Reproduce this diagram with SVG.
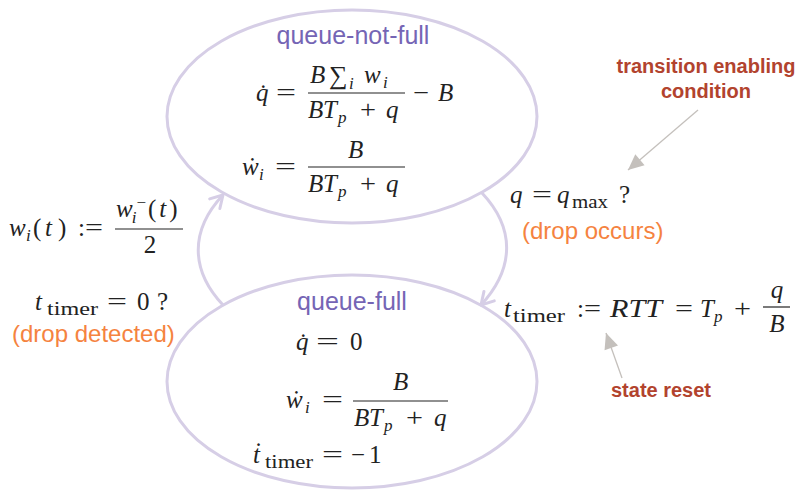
<svg xmlns="http://www.w3.org/2000/svg" width="804" height="493" viewBox="0 0 804 493">
<style>
.node{fill:none;stroke:#d6cee6;stroke-width:3}
.conn{fill:none;stroke:#d6cee6;stroke-width:3}
.ann{fill:none;stroke:#c4c0bc;stroke-width:1.3}
.title{font-family:"Liberation Sans",Arial,sans-serif;font-size:25px;fill:#7565b5;text-anchor:middle}
.m{font-family:"Liberation Serif","Times New Roman",serif;font-size:25px;fill:#222}
.i{font-style:italic}
.s{font-size:17px}
.sw{font-size:19px}
.bar{stroke:#222;stroke-width:1.2}
.or{font-family:"Liberation Sans",Arial,sans-serif;font-size:24px;fill:#f5833f}
.red{font-family:"Liberation Sans",Arial,sans-serif;font-size:20px;font-weight:bold;fill:#b2432e;text-anchor:middle}
</style>
<defs>
<marker id="chev" markerUnits="userSpaceOnUse" markerWidth="30" markerHeight="30" refX="0" refY="0" viewBox="-15 -15 30 30" orient="auto">
<path d="M-12,-7 L0,0 L-12,7" fill="none" stroke="#d6cee6" stroke-width="3" stroke-linecap="round" stroke-linejoin="round"/>
</marker>
<marker id="tri" markerUnits="userSpaceOnUse" markerWidth="20" markerHeight="20" refX="0" refY="0" viewBox="-12 -6 14 12" orient="auto">
<path d="M-11,-5 L0,0 L-11,5 Z" fill="#c4c0bc"/>
</marker>
</defs>

<g id="connectors">
<path class="conn" d="M223,305 C190,270 190,230 223,195" marker-end="url(#chev)"/>
<path class="conn" d="M482,193 C515,228 515,268 481,305" marker-end="url(#chev)"/>
<line class="ann" x1="698" y1="110" x2="628" y2="170" marker-end="url(#tri)"/>
<line class="ann" x1="622" y1="378" x2="606" y2="333" marker-end="url(#tri)"/>
</g>

<g id="queue-not-full">
<ellipse class="node" cx="352" cy="116.5" rx="185" ry="106.5"/>
<text class="title" x="353" y="44">queue-not-full</text>
<text class="m i" x="256" y="101">q&#x307;</text>
<text class="m" x="276" y="101" textLength="20" lengthAdjust="spacingAndGlyphs">=</text>
<text class="m i" x="310" y="83">B</text>
<text class="m" x="329" y="84" style="font-size:26px">∑</text>
<text class="m i s" x="349" y="89">i</text>
<text class="m i" x="364" y="83">w</text>
<text class="m i s" x="383" y="88">i</text>
<line class="bar" x1="308" y1="93" x2="405" y2="93"/>
<text class="m i" x="308" y="118">B</text>
<text class="m i" x="323" y="118">T</text>
<text class="m i s" x="338" y="123">p</text>
<text class="m" x="360" y="118" textLength="16" lengthAdjust="spacingAndGlyphs">+</text>
<text class="m i" x="386" y="118">q</text>
<text class="m" x="413" y="101" textLength="16" lengthAdjust="spacingAndGlyphs">−</text>
<text class="m i" x="438" y="101">B</text>
<text class="m i" x="242" y="175">w&#x307;</text>
<text class="m i s" x="259" y="180">i</text>
<text class="m" x="275" y="175" textLength="21" lengthAdjust="spacingAndGlyphs">=</text>
<text class="m i" x="348" y="158">B</text>
<line class="bar" x1="308" y1="167" x2="405" y2="167"/>
<text class="m i" x="308" y="192">B</text>
<text class="m i" x="323" y="192">T</text>
<text class="m i s" x="338" y="197">p</text>
<text class="m" x="360" y="192" textLength="16" lengthAdjust="spacingAndGlyphs">+</text>
<text class="m i" x="386" y="192">q</text>
</g>

<g id="queue-full">
<ellipse class="node" cx="352" cy="381.5" rx="185" ry="106.5"/>
<text class="title" x="352" y="310">queue-full</text>
<text class="m i" x="296" y="350">q&#x307;</text>
<text class="m" x="316" y="350" textLength="23" lengthAdjust="spacingAndGlyphs">=</text>
<text class="m" x="350" y="350">0</text>
<text class="m i" x="286" y="408">w&#x307;</text>
<text class="m i s" x="305" y="413">i</text>
<text class="m" x="322" y="408" textLength="21" lengthAdjust="spacingAndGlyphs">=</text>
<text class="m i" x="393" y="390">B</text>
<line class="bar" x1="353" y1="401" x2="448" y2="401"/>
<text class="m i" x="354" y="426">B</text>
<text class="m i" x="369" y="426">T</text>
<text class="m i s" x="384" y="431">p</text>
<text class="m" x="406" y="426" textLength="17" lengthAdjust="spacingAndGlyphs">+</text>
<text class="m i" x="434" y="426">q</text>
<text class="m i" x="253" y="463">t&#x307;</text>
<text class="m sw" x="265" y="468" textLength="48" lengthAdjust="spacingAndGlyphs">timer</text>
<text class="m" x="322" y="463" textLength="21" lengthAdjust="spacingAndGlyphs">=</text>
<text class="m" x="351" y="463" textLength="14" lengthAdjust="spacingAndGlyphs">−</text>
<text class="m" x="369" y="463">1</text>
</g>

<g id="labels">
<text class="m i" x="9" y="236">w</text>
<text class="m i s" x="26" y="241">i</text>
<text class="m" x="33" y="236">(</text>
<text class="m i" x="45" y="236">t</text>
<text class="m" x="58" y="236">)</text>
<text class="m" x="78" y="236">:</text>
<text class="m" x="85" y="236" textLength="18" lengthAdjust="spacingAndGlyphs">=</text>
<text class="m i" x="116" y="217">w<tspan class="s" dx="-1" dy="6">i</tspan><tspan class="s" font-style="normal" dx="0" dy="-15">−</tspan><tspan font-style="normal" dx="2" dy="9">(</tspan><tspan dx="3">t</tspan><tspan font-style="normal" dx="3">)</tspan></text>
<line class="bar" x1="115" y1="229" x2="183" y2="229"/>
<text class="m" x="150" y="253" text-anchor="middle">2</text>
<text class="m i" x="35" y="310">t</text>
<text class="m sw" x="47" y="315" textLength="51" lengthAdjust="spacingAndGlyphs">timer</text>
<text class="m" x="107" y="310" textLength="20" lengthAdjust="spacingAndGlyphs">=</text>
<text class="m" x="137" y="310">0</text>
<text class="m" x="157" y="310">?</text>
<text class="or" x="12" y="342">(drop detected)</text>

<text class="m i" x="510" y="203">q</text>
<text class="m" x="532" y="203" textLength="20" lengthAdjust="spacingAndGlyphs">=</text>
<text class="m i" x="557" y="203">q</text>
<text class="m sw" x="572" y="208" textLength="36" lengthAdjust="spacingAndGlyphs">max</text>
<text class="m" x="619" y="203">?</text>
<text class="or" x="522" y="239">(drop occurs)</text>

<text class="m i" x="504" y="317">t</text>
<text class="m sw" x="513" y="322" textLength="52" lengthAdjust="spacingAndGlyphs">timer</text>
<text class="m" x="577" y="317">:</text>
<text class="m" x="584" y="317" textLength="17" lengthAdjust="spacingAndGlyphs">=</text>
<text class="m i" x="610" y="317" textLength="52" lengthAdjust="spacingAndGlyphs">RTT</text>
<text class="m" x="675" y="317" textLength="18" lengthAdjust="spacingAndGlyphs">=</text>
<text class="m i" x="700" y="317">T</text>
<text class="m i s" x="714" y="322">p</text>
<text class="m" x="734" y="317" textLength="17" lengthAdjust="spacingAndGlyphs">+</text>
<text class="m i" x="777" y="298" text-anchor="middle">q</text>
<line class="bar" x1="763" y1="307" x2="790" y2="307"/>
<text class="m i" x="777" y="332" text-anchor="middle">B</text>

<text class="red" x="706" y="73">transition enabling</text>
<text class="red" x="706" y="98">condition</text>
<text class="red" x="661" y="397">state reset</text>
</g>
</svg>
